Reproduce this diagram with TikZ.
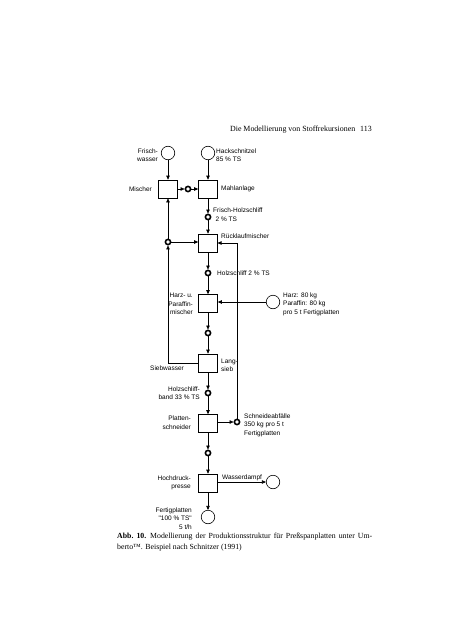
\documentclass[tikz,border=0pt]{standalone}
\usepackage{fontspec}
\setmainfont{Liberation Serif}
\newfontfamily\lsans{Liberation Sans}
\usetikzlibrary{arrows.meta}
\begin{document}
\begin{tikzpicture}[x=1pt,y=-1pt,
  box/.style={draw, line width=0.6pt, minimum width=19pt, minimum height=18pt, inner sep=0pt},
  src/.style={draw, circle, line width=0.6pt, minimum size=13.5pt, inner sep=0pt},
  ring/.style={draw, circle, line width=1.6pt, minimum size=5.2pt, inner sep=0pt, fill=white},
  lbl/.style={font=\lsans\fontsize{6.5}{8.4}\selectfont, inner sep=0pt},
  flow/.style={line width=0.6pt, -{Triangle[length=4pt,width=3.4pt]}},
  conn/.style={line width=0.6pt}]
\useasboundingbox[fill=white] (0,0) rectangle (452,640);

% header
\node[anchor=east, inner sep=0pt, font=\fontsize{7.9}{9}\selectfont] (hdr) at (372,130) {Die Modellierung von Stoffrekursionen\hspace{5pt}113};

% sources / sinks
\node[src] (fw) at (168,153) {};
\node[src] (hs) at (208,153) {};
\node[src] (hc) at (273,302) {};
\node[src] (wd) at (273,482) {};
\node[src] (fp) at (208,517) {};

% processes
\node[box] (mischer) at (168,189) {};
\node[box] (mahl) at (208,189) {};
\node[box] (rueck) at (208,243) {};
\node[box] (harz) at (208,303.5) {};
\node[box] (lang) at (208,363) {};
\node[box] (platt) at (208,423.5) {};
\node[box] (presse) at (208,483) {};

% rings
\node[ring] (ring1) at (188,189) {};
\node[ring] (ring2) at (208,217) {};
\node[ring] (lring) at (168,242) {};
\node[ring] (ring3) at (208,273) {};
\node[ring] (ring4) at (208,333) {};
\node[ring] (ring5) at (208,393) {};
\node[ring] (ring6) at (237,422) {};
\node[ring] (ring7) at (208,453) {};
\coordinate (rin) at (217.5,243);
\coordinate (sbw) at (168,363);

% flows
\draw[flow] (fw) -- (mischer);
\draw[flow] (hs) -- (mahl);
\draw[flow] (mischer) -- (ring1);
\draw[flow] (ring1) -- (mahl);
\draw[flow] (mahl) -- (ring2);
\draw[flow] (ring2) -- (rueck);
\draw[flow] (rueck) -- (ring3);
\draw[flow] (ring3) -- (harz);
\draw[flow] (hc) -- (hc -| harz.east);
\draw[flow] (harz) -- (ring4);
\draw[flow] (ring4) -- (lang);
\draw[flow] (lang.west) -- (sbw) -- (lring);
\draw[flow] (lring) -- (mischer);
\draw[flow] (lring) -- (lring -| rueck.west);
\draw[flow] (lang) -- (ring5);
\draw[flow] (ring5) -- (platt);
\draw[flow] (platt.east |- ring6) -- (ring6);
\draw[flow] (ring6) -- (ring6 |- rin) -- (rin);
\draw[flow] (platt) -- (ring7);
\draw[flow] (ring7) -- (presse);
\draw[flow] (presse.east |- wd) -- (wd);
\draw[flow] (presse) -- (fp);

% labels
\node[lbl, anchor=east, align=right] (tfw) at (158,155) {Frisch-\\wasser};
\node[lbl, anchor=west, align=left] (ths) at (216,155) {Hackschnitzel\\85 \% TS};
\node[lbl, anchor=east] (tmi) at (152,189) {Mischer};
\node[lbl, anchor=west] (tma) at (221,189) {Mahlanlage};
\node[lbl, anchor=west] (tfh) at (213,210) {Frisch-Holzschliff};
\node[lbl, anchor=west] (tfh2) at (215.5,219) {2 \% TS};
\node[lbl, anchor=west] (tru) at (221,236) {Rücklaufmischer};
\node[lbl, anchor=west] (tho) at (217,273.5) {Holzschliff 2 \% TS};
\node[lbl, anchor=east, align=right] (tha) at (193,304) {Harz- u.\\Paraffin-\\mischer};
\node[lbl, anchor=west, align=left] (thc) at (283,304) {Harz: 80 kg\\Paraffin: 80 kg\\pro 5 t Fertigplatten};
\node[lbl, anchor=west, align=left] (tla) at (221,365) {Lang-\\sieb};
\node[lbl] (tsb) at (167,368.5) {Siebwasser};
\node[lbl, anchor=east, align=right] (thb) at (200,393) {Holzschliff-\\band 33 \% TS};
\node[lbl, anchor=east, align=right] (tpl) at (191,422.5) {Platten-\\schneider};
\node[lbl, anchor=west, align=left] (tsc) at (244,425) {Schneideabfälle\\350 kg pro 5 t\\Fertigplatten};
\node[lbl, anchor=east, align=right] (tpr) at (191,483) {Hochdruck-\\presse};
\node[lbl, anchor=west] (twd) at (222,478) {Wasserdampf};
\node[lbl, anchor=east, align=right] (tfp) at (192,518.5) {Fertigplatten\\"100 \% TS"\\5 t/h};

% caption
\node[anchor=north west, inner sep=0pt, align=left, font=\fontsize{7.8}{11}\selectfont] (cap) at (117,532.5)
{\makebox[255pt][s]{\textbf{Abb.~10.}\enspace Modellierung der Produktionsstruktur für Preßspanplatten unter Um-}\\berto™. Beispiel nach Schnitzer (1991)};
\end{tikzpicture}
\end{document}
